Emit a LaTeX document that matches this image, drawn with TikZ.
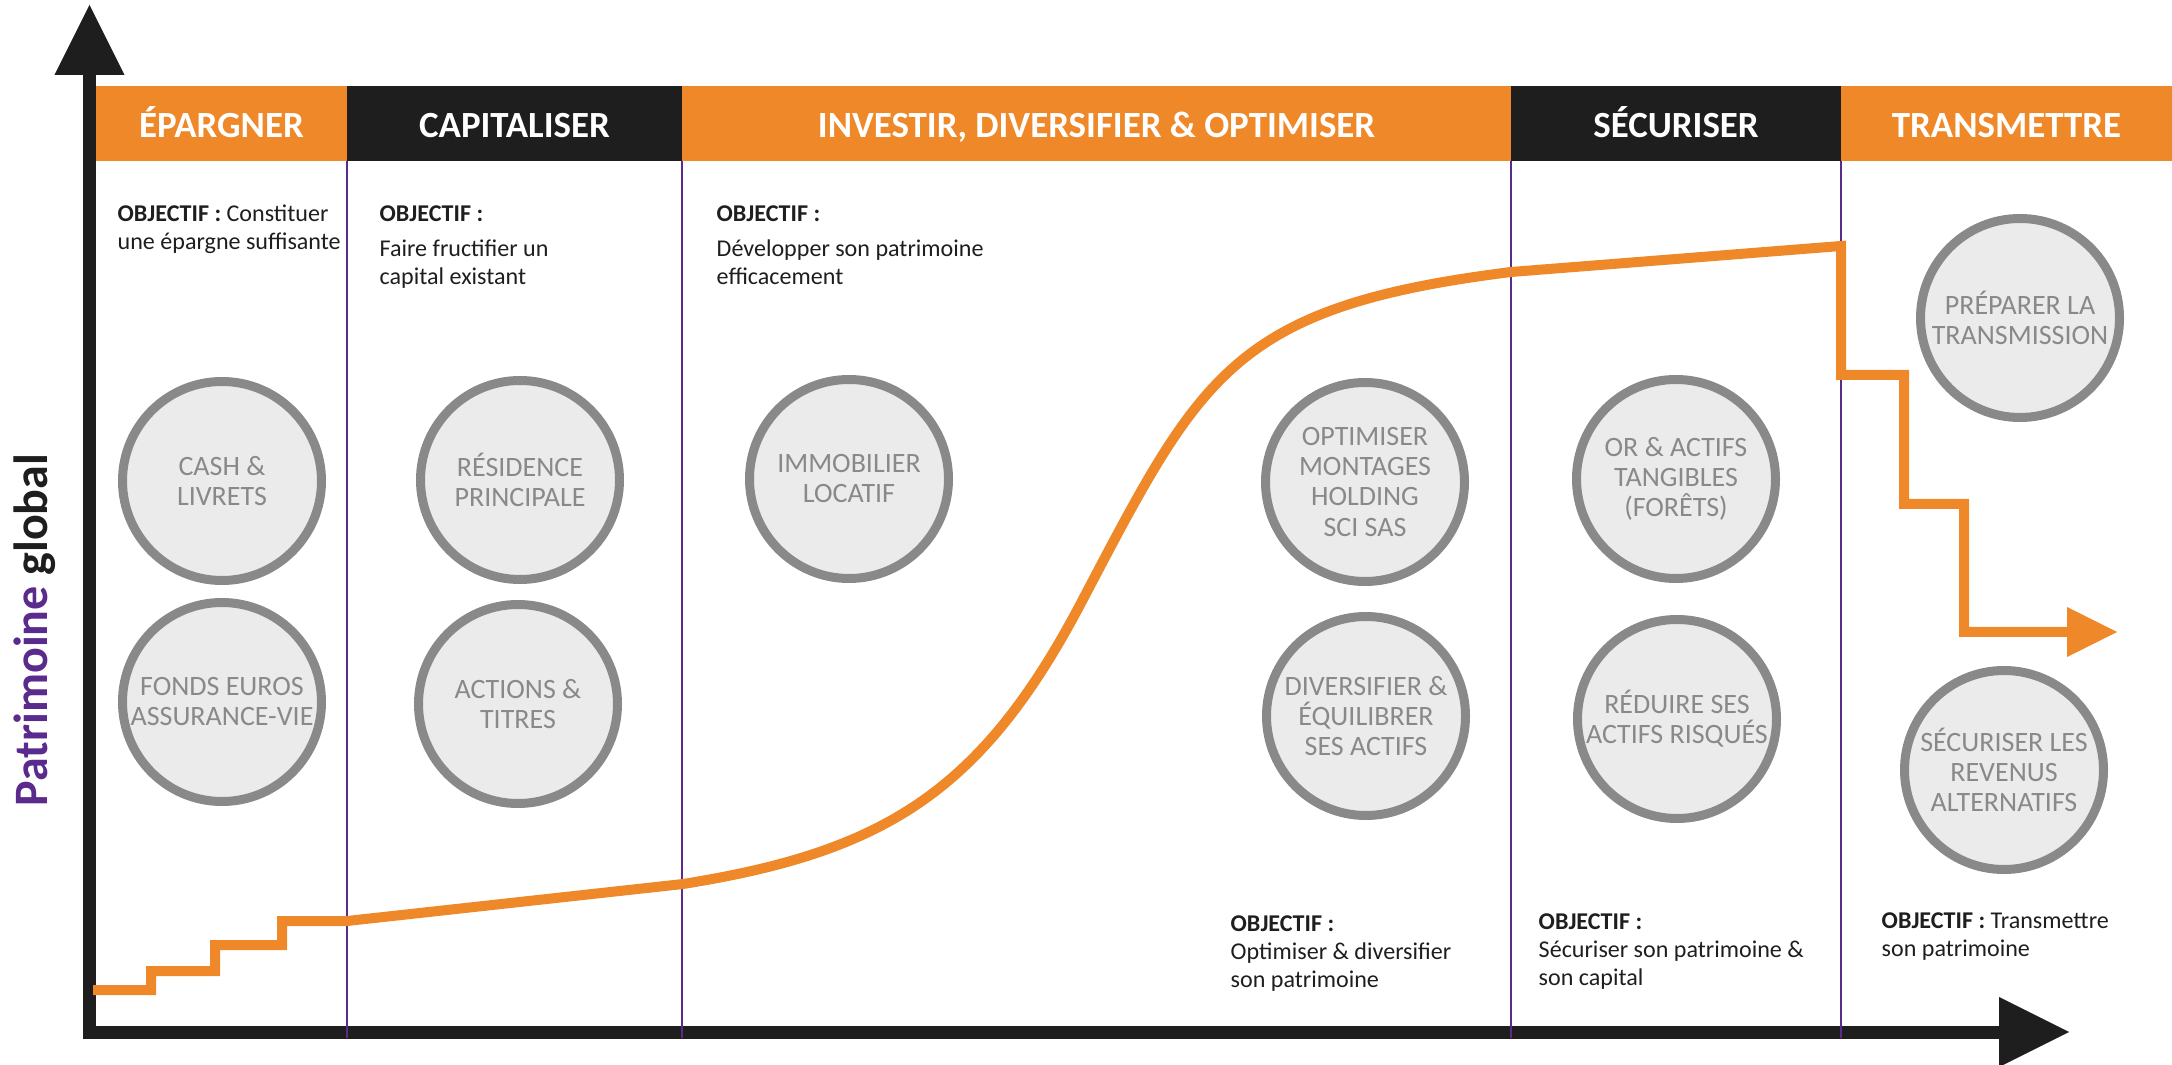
\documentclass[tikz,border=0pt]{standalone}
\usepackage{fontspec}
\setmainfont{Carlito}
\usetikzlibrary{arrows.meta,positioning}

\definecolor{orangeP}{HTML}{EE8828}
\definecolor{darkP}{HTML}{1E1E1E}
\definecolor{purpleP}{HTML}{5A2A8C}
\definecolor{ringgray}{HTML}{898989}
\definecolor{assetfill}{HTML}{EBEBEB}

\tikzset{
  phase/.style={minimum height=7.5mm, inner sep=0pt, outer sep=0pt, text=white,
    text height=2.8mm, text depth=0mm,
    font=\bfseries\fontsize{10.5}{12}\selectfont},
  asset/.style={circle, draw=ringgray, line width=0.9mm, fill=assetfill, text=ringgray,
    minimum size=19.9mm, inner sep=0pt, align=center,
    font=\fontsize{7.97}{8.54}\selectfont},
  goal/.style={anchor=north west, inner sep=0pt, align=left, text=darkP,
    font=\fontsize{6.85}{7.97}\selectfont},
  axis/.style={draw=darkP, line width=1.3mm,
    -{Triangle[width=7mm, length=7mm, line width=0pt]}},
  divider/.style={draw=purpleP, line width=0.25mm},
  growth/.style={draw=orangeP, line width=1mm, line join=miter,
    -{Triangle[width=5mm, length=5mm, line width=0pt]}}
}

\begin{document}
\begin{tikzpicture}[x=0.1mm, y=-0.1mm]
	\useasboundingbox (0,0) rectangle (2172,1065);

	% bandeau des phases
	\node[phase, fill=orangeP, minimum width=25.1mm, anchor=north west] (epargner) at (96,86) {ÉPARGNER};
	\node[phase, fill=darkP, minimum width=33.5mm, right=0pt of epargner] (capitaliser) {CAPITALISER};
	\node[phase, fill=orangeP, minimum width=82.9mm, right=0pt of capitaliser] (investir) {INVESTIR, DIVERSIFIER \& OPTIMISER};
	\node[phase, fill=darkP, minimum width=33mm, right=0pt of investir] (securiser) {SÉCURISER};
	\node[phase, fill=orangeP, minimum width=33.1mm, right=0pt of securiser] (transmettre) {TRANSMETTRE};

	% axes
	\draw[axis] (89.5,1039) -- (89.5,5);
	\draw[axis] (83,1032) -- (2069,1032);
	\node[rotate=90, anchor=base, font=\bfseries\fontsize{13.66}{16}\selectfont] (ylabel) at (47,630)
		{\textcolor{purpleP}{Patrimoine} \textcolor{darkP}{global}};

	\foreach \p in {epargner,capitaliser,investir,securiser}
		\draw[divider] (\p.south east) -- (\p.south east |- 0,1038);

	% objectifs
	\node[goal] (objEpargner) at (117,204) {\textbf{OBJECTIF :} Constituer\\une épargne suffisante};
	\node[goal] (objCapitaliser) at (379,205) {\textbf{OBJECTIF :}\\[0.7mm]Faire fructifier un\\capital existant};
	\node[goal] (objInvestir) at (716,205) {\textbf{OBJECTIF :}\\[0.7mm]Développer son patrimoine\\efficacement};
	\node[goal] (objOptimiser) at (1230,915) {\textbf{OBJECTIF :}\\Optimiser \& diversifier\\son patrimoine};
	\node[goal] (objSecuriser) at (1538,913) {\textbf{OBJECTIF :}\\Sécuriser son patrimoine \&\\son capital};
	\node[goal] (objTransmettre) at (1881,912) {\textbf{OBJECTIF :} Transmettre\\son patrimoine};

	% supports
	\node[asset] (cash) at (222,481) {CASH \&\\LIVRETS};
	\node[asset] (fonds) at (222,702) {FONDS EUROS\\ASSURANCE-VIE};
	\node[asset] (residence) at (520,480) {RÉSIDENCE\\PRINCIPALE};
	\node[asset] (actions) at (518,704) {ACTIONS \&\\TITRES};
	\node[asset] (immobilier) at (849,479) {IMMOBILIER\\LOCATIF};
	\node[asset] (montages) at (1365,482) {OPTIMISER\\MONTAGES\\HOLDING\\SCI SAS};
	\node[asset] (diversifier) at (1366,716) {DIVERSIFIER \&\\ÉQUILIBRER\\SES ACTIFS};
	\node[asset] (tangibles) at (1676,479) {OR \& ACTIFS\\TANGIBLES\\(FORÊTS)};
	\node[asset] (risques) at (1677,719) {RÉDUIRE SES\\ACTIFS RISQUÉS};
	\node[asset] (preparer) at (2020,318) {PRÉPARER LA\\TRANSMISSION};
	\node[asset] (revenus) at (2004,770) {SÉCURISER LES\\REVENUS\\ALTERNATIFS};

	% courbe du patrimoine
	\draw[growth] (93,990) -| (151,971) -| (215,945) -| (282,921) -- (347,921) -- (683,884)
		.. controls (883,852) and (981,793) .. (1081,603)
		.. controls (1201,375) and (1231,307) .. (1511,272) -- (1841,246)
		|- (1904,375) |- (1964,504) |- (2117,632);
\end{tikzpicture}
\end{document}
